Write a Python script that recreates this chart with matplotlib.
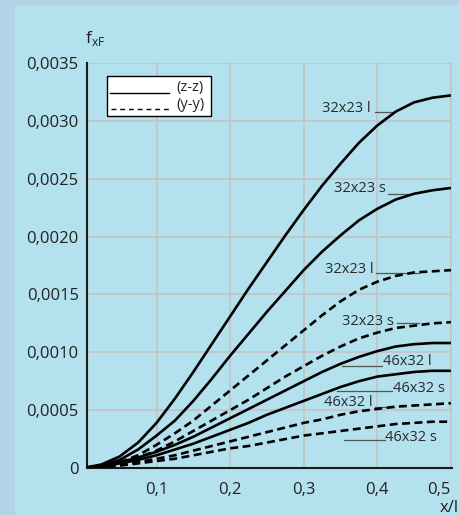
import matplotlib
matplotlib.use("Agg")
import matplotlib.pyplot as plt
from matplotlib.patches import Rectangle
from matplotlib.lines import Line2D

plt.rcParams['font.family'] = ['Open Sans', 'DejaVu Sans']

# x/l positions (read every 0.025)
x = [0, 0.025, 0.05, 0.075, 0.1, 0.125, 0.15, 0.175, 0.2, 0.225, 0.25,
     0.275, 0.3, 0.325, 0.35, 0.375, 0.4, 0.425, 0.45, 0.475, 0.5]

# (z-z) solid curves
z_32x23_l = [0, 0.00003, 0.00010, 0.00022, 0.00039, 0.00060, 0.00083, 0.00107, 0.00131, 0.00155, 0.00178,
             0.00201, 0.00223, 0.00244, 0.00263, 0.00281, 0.00296, 0.00308, 0.00316, 0.00320, 0.00322]
z_32x23_s = [0, 0.00002, 0.00007, 0.00016, 0.00028, 0.00041, 0.00058, 0.00077, 0.00097, 0.00116, 0.00135,
             0.00153, 0.00171, 0.00187, 0.00201, 0.00214, 0.00224, 0.00232, 0.00237, 0.00240, 0.00242]
z_46x32_l = [0, 0.00002, 0.00005, 0.00009, 0.00014, 0.00020, 0.00027, 0.00035, 0.00043, 0.00051, 0.00059,
             0.00067, 0.00075, 0.00083, 0.00090, 0.00096, 0.00101, 0.00105, 0.00107, 0.00108, 0.00108]
z_46x32_s = [0, 0.00001, 0.00004, 0.00007, 0.00011, 0.00016, 0.00021, 0.00027, 0.00033, 0.00039, 0.00046,
             0.00052, 0.00058, 0.00064, 0.00070, 0.00075, 0.00079, 0.00081, 0.00083, 0.00084, 0.00084]

# (y-y) dashed curves
y_32x23_l = [0, 0.00001, 0.00005, 0.00011, 0.00020, 0.00030, 0.00041, 0.00054, 0.00067, 0.00080, 0.00093,
             0.00106, 0.00119, 0.00132, 0.00144, 0.00154, 0.00161, 0.00166, 0.00169, 0.00170, 0.00171]
y_32x23_s = [0, 0.00001, 0.00004, 0.00009, 0.00015, 0.00023, 0.00032, 0.00041, 0.00050, 0.00059, 0.00069,
             0.00079, 0.00088, 0.00097, 0.00105, 0.00112, 0.00117, 0.00121, 0.00123, 0.00125, 0.00126]
y_46x32_l = [0, 0.00001, 0.00003, 0.00005, 0.00008, 0.00011, 0.00015, 0.00019, 0.00023, 0.00027, 0.00031,
             0.00035, 0.00039, 0.00042, 0.00046, 0.00049, 0.00051, 0.00053, 0.00054, 0.00055, 0.00056]
y_46x32_s = [0, 0.00001, 0.00002, 0.00004, 0.00006, 0.00008, 0.00011, 0.00014, 0.00017, 0.00019, 0.00022,
             0.00025, 0.00028, 0.00030, 0.00032, 0.00034, 0.00036, 0.00038, 0.00039, 0.00040, 0.00040]

xticks = [0.1, 0.2, 0.3, 0.4, 0.5]
xtick_labels = ['0,1', '0,2', '0,3', '0,4', '0,5']
yticks = [0, 0.0005, 0.001, 0.0015, 0.002, 0.0025, 0.003, 0.0035]
ytick_labels = ['0', '0,0005', '0,0010', '0,0015', '0,0020', '0,0025', '0,0030', '0,0035']

# curve labels: text, right end of text, text centre y, leader start, leader end, leader y
labels = [
    ('32x23 l', 0.3915, 0.003103, 0.397, 0.423, 0.003078),
    ('32x23 s', 0.4118, 0.002414, 0.4145, 0.443, 0.002371),
    ('32x23 l', 0.3956, 0.001716, 0.398, 0.457, 0.001681),
    ('32x23 s', 0.4227, 0.001267, 0.427, 0.457, 0.001250),
    ('46x32 l', 0.4742, 0.000922, 0.352, 0.4065, 0.000879),
    ('46x32 s', 0.4918, 0.000690, 0.345, 0.420, 0.000664),
    ('46x32 l', 0.3942, 0.000569, 0.397, 0.423, 0.000526),
    ('46x32 s', 0.4810, 0.000267, 0.355, 0.4105, 0.000241),
]

fig = plt.figure(figsize=(4.6, 5.15), dpi=100)
fig.patch.set_facecolor('#b1d5e7')
fig.patches.append(Rectangle((15 / 460, 0), 1, 1 - 6 / 515, transform=fig.transFigure,
                             facecolor='#b3e1ee', edgecolor='none', zorder=-5))

ax = fig.add_axes([87 / 460, 47 / 515, 365 / 460, 405 / 515])
ax.set_facecolor('none')
ax.set_zorder(1)

solid_kw = dict(color='black', lw=1.9, solid_capstyle='butt', solid_joinstyle='round')
dash_kw = dict(color='black', lw=1.9, ls=(0, (3.0, 1.7)))
for s in [z_32x23_l, z_32x23_s, z_46x32_l, z_46x32_s]:
    ax.plot(x, s, **solid_kw, zorder=3)
for s in [y_32x23_l, y_32x23_s, y_46x32_l, y_46x32_s]:
    ax.plot(x, s, **dash_kw, zorder=3)

for txt, tx, ty, l0, l1, ly in labels:
    ax.text(tx, ty, txt, ha='right', va='center', fontsize=10.5, color='#2a2a2a', zorder=4)
    ax.plot([l0, l1], [ly, ly], color='#555555', lw=0.9, zorder=2)

ax.set_xlim(0.0055, 0.5015)
ax.set_ylim(0, 0.0035)
ax.set_xticks(xticks)
ax.set_xticklabels(xtick_labels)
ax.set_yticks(yticks)
ax.set_yticklabels(ytick_labels)
ax.get_xticklabels()[-1].set_horizontalalignment('right')
ax.tick_params(length=0, labelsize=12, labelcolor='#222222')
ax.tick_params(axis='x', pad=10)
ax.tick_params(axis='y', pad=6)
ax.grid(True, color='#c4c4c4', lw=1.3, zorder=1)
ax.set_axisbelow(True)
for side in ['top', 'right']:
    ax.spines[side].set_visible(False)
for side in ['left', 'bottom']:
    ax.spines[side].set_color('#1a1a1a')
    ax.spines[side].set_linewidth(1.5)

# legend box
fig.patches.append(Rectangle((107 / 460, 1 - 116 / 515), 104 / 460, 40 / 515, transform=fig.transFigure,
                             facecolor='white', edgecolor='black', lw=1.0, zorder=5))
fig.lines.append(Line2D([110 / 460, 169 / 460], [1 - 93 / 515] * 2, transform=fig.transFigure,
                        color='black', lw=1.0, zorder=6))
fig.lines.append(Line2D([111 / 460, 169 / 460], [1 - 109 / 515] * 2, transform=fig.transFigure,
                        color='black', lw=1.0, ls=(0, (3.5, 2.8)), zorder=6))
fig.text(176 / 460, 1 - 87 / 515, '(z-z)', fontsize=10.5, color='#222222', va='center', zorder=7)
fig.text(176 / 460, 1 - 104 / 515, '(y-y)', fontsize=10.5, color='#222222', va='center', zorder=7)

fig.text(85 / 460, 1 - 43 / 515, r'f$_{\mathregular{xF}}$', fontsize=12.5, color='#222222')
fig.text(459 / 460, 1 - 512 / 515, 'x/l', fontsize=12, color='#222222', ha='right')

fig.savefig('out.png', dpi=100, facecolor=fig.get_facecolor())
